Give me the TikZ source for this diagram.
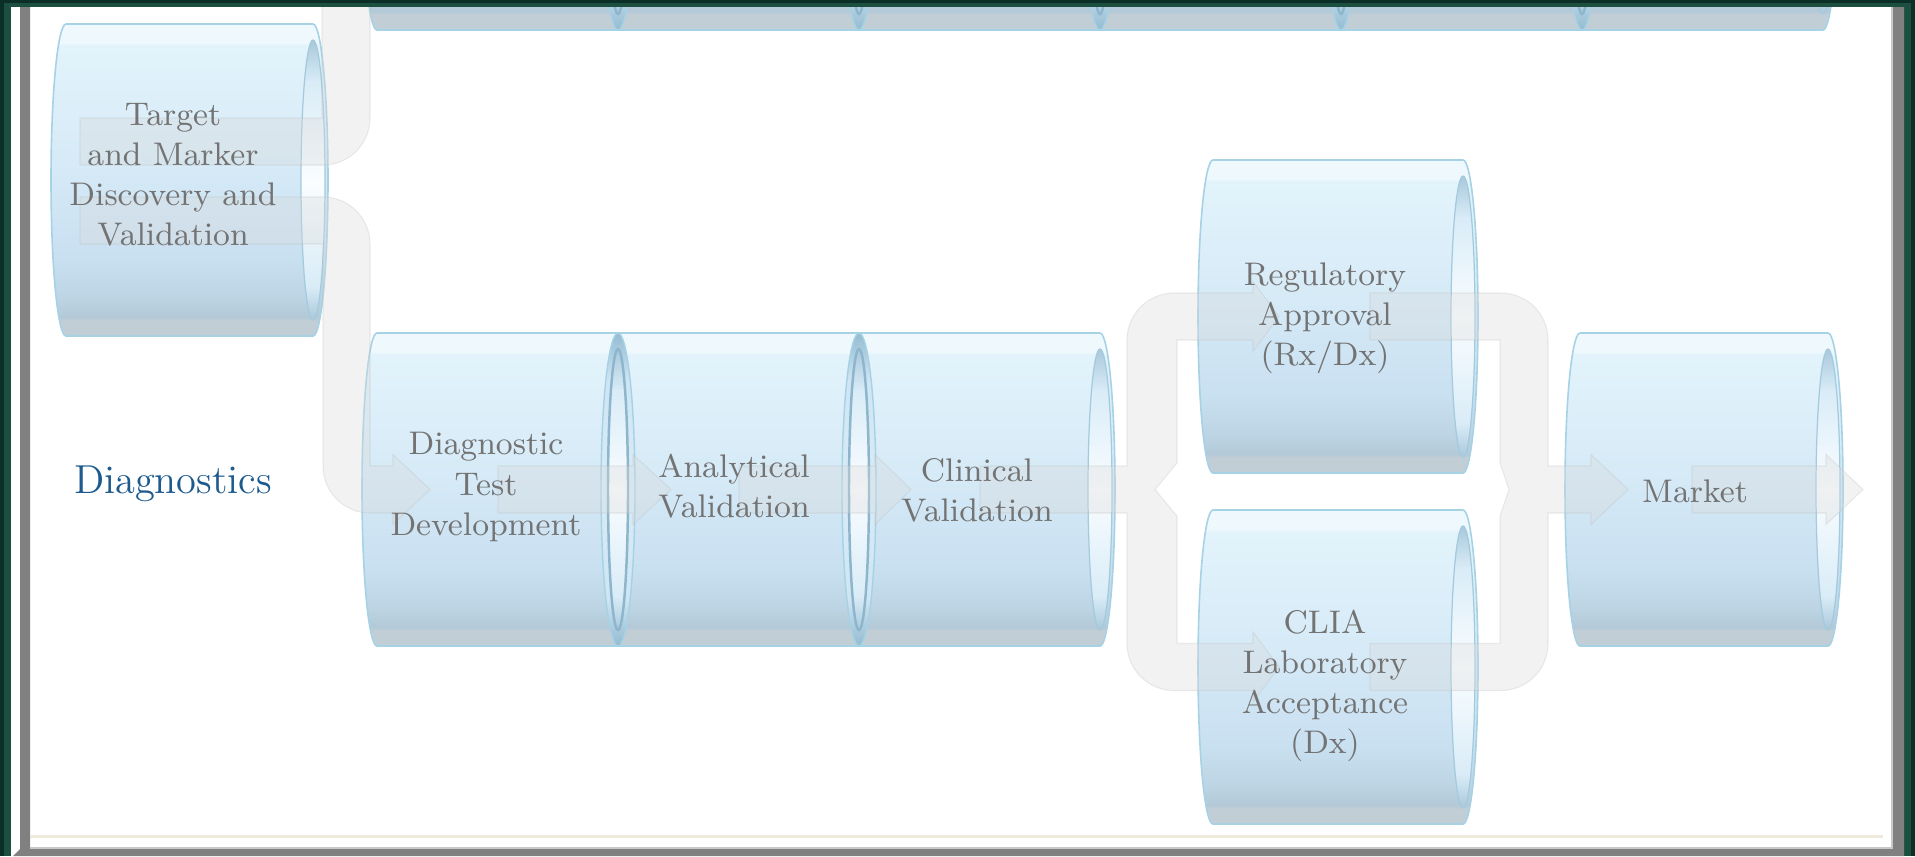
\documentclass[tikz,border=0pt]{standalone}
\usepackage{fontspec}

% palette
\definecolor{greenA}{HTML}{0B2F27}
\definecolor{greenB}{HTML}{1C4F3F}
\definecolor{framegray}{HTML}{808080}
\definecolor{framelight}{HTML}{C8C8C8}
\definecolor{creamline}{HTML}{EFEADB}
\definecolor{cyledge}{HTML}{A6D2E5}
\definecolor{ringblue}{HTML}{8DB6CD}
\definecolor{faceedge}{HTML}{A3CADD}
\definecolor{cbA}{HTML}{C2CED6}
\definecolor{cbB}{HTML}{B3C9D7}
\definecolor{cbC}{HTML}{BCD4E3}
\definecolor{cbD}{HTML}{C9E0F1}
\definecolor{cbE}{HTML}{D6EAF7}
\definecolor{cbF}{HTML}{E2F3FB}
\definecolor{cbG}{HTML}{EEF8FD}
\definecolor{cfA}{HTML}{A9C8DB}
\definecolor{cfB}{HTML}{D9ECF7}
\definecolor{cfC}{HTML}{FAFDFF}
\definecolor{crA}{HTML}{94BBD1}
\definecolor{crB}{HTML}{CFE5F3}
\definecolor{bandgray}{HTML}{D9D9D9}
\definecolor{bandedge}{HTML}{B8B8B8}
\definecolor{lblgray}{HTML}{737373}
\definecolor{diagblue}{HTML}{1D5A8E}

% cylinder body, end face and ring shadings (bottom to top; 25bp..75bp spans the path)
\pgfdeclareverticalshading{cylbody}{100bp}{color(0bp)=(cbA); color(25bp)=(cbA); color(27.5bp)=(cbA); color(28bp)=(cbB); color(31bp)=(cbC); color(37.5bp)=(cbD); color(52.5bp)=(cbE); color(71.5bp)=(cbF); color(72bp)=(cbG); color(75bp)=(cbG); color(100bp)=(cbG)}
\pgfdeclareverticalshading{cylface}{100bp}{color(0bp)=(cfA); color(25bp)=(cfA); color(31bp)=(cfB); color(50bp)=(cfC); color(67.5bp)=(cfB); color(75bp)=(cfA); color(100bp)=(cfA)}
\pgfdeclareverticalshading{cylring}{100bp}{color(0bp)=(crA); color(25bp)=(crA); color(32.5bp)=(crB); color(50bp)=(cfB); color(67.5bp)=(crB); color(75bp)=(crA); color(100bp)=(crA)}

\tikzset{
  cylfill/.style={shading=cylbody, draw=cyledge, line width=0.45pt},
  cylfacestyle/.style={shading=cylface, draw=faceedge, line width=0.35pt},
  ringouter/.style={shading=cylring, draw=cyledge, line width=0.4pt},
  ringinner/.style={shading=cylface, draw=ringblue, line width=0.7pt},
  band/.style={fill=bandgray, fill opacity=0.33, draw=bandedge, draw opacity=0.25, line width=0.3pt},
  lbl/.style={text=lblgray, align=center, inner sep=0pt, font=\fontsize{9.3pt}{11.4pt}\selectfont},
}

% #1 left centre, #2 right centre, #3 top, #4 bottom
\newcommand{\drawcylbody}[4]{%
  \pgfmathsetmacro\cyry{(#4-#3)/2}%
  \path[cylfill] (#2,#3) arc[start angle=-90,end angle=90,x radius=15,y radius=\cyry]
    -- (#1,#4) arc[start angle=90,end angle=270,x radius=15,y radius=\cyry] -- cycle;
}
% #1 centre x, #2 top, #3 bottom
\newcommand{\drawcylend}[3]{%
  \pgfmathsetmacro\cyri{(#3-#2)/2-16}%
  \pgfmathsetmacro\cycy{(#3+#2)/2}%
  \path[cylfacestyle] (#1,\cycy) ellipse[x radius=12,y radius=\cyri];
}
\newcommand{\drawcylring}[3]{%
  \pgfmathsetmacro\cyry{(#3-#2)/2}%
  \pgfmathsetmacro\cyri{(#3-#2)/2-16}%
  \pgfmathsetmacro\cycy{(#3+#2)/2}%
  \path[ringouter] (#1,\cycy) ellipse[x radius=17,y radius=\cyry];
  \path[ringinner] (#1,\cycy) ellipse[x radius=10,y radius=\cyri];
}

\begin{document}
\begin{tikzpicture}[x=0.01cm,y=-0.01cm]
\useasboundingbox (0,0) rectangle (1915,856);

% frame
\fill[greenA] (0,0) rectangle (1915,856);
\fill[greenB] (4,3) rectangle (1911,856);
\fill[white] (11,7) rectangle (1904,856);
\fill[framegray] (20,7) -- (30,7) -- (30,849) -- (1893,849) -- (1893,7) -- (1904,7)
  -- (1904,856) -- (13,856) -- (20,849) -- cycle;
\fill[framelight] (1890.5,7) rectangle (1893,849);
\fill[framelight] (30,847) rectangle (1893,849);
\fill[creamline] (30,835) rectangle (1883,837.5);

\begin{scope}
\clip (30,7) rectangle (1890,847);

% upper row of stages (only its lower edge is in view)
\drawcylbody{377}{1823}{-283}{30}
\foreach \c in {618,859,1100,1341,1582} {\drawcylring{\c}{-283}{30}}
\drawcylend{1823}{-283}{30}

% target and marker discovery
\drawcylbody{66}{313}{24}{336}
\drawcylend{313}{24}{336}

% diagnostic development chain
\drawcylbody{377}{1100}{333}{646}
\drawcylring{618}{333}{646}
\drawcylring{859}{333}{646}
\drawcylend{1100}{333}{646}

% regulatory approval
\drawcylbody{1213}{1463}{160}{473}
\drawcylend{1463}{160}{473}

% CLIA acceptance
\drawcylbody{1213}{1463}{510}{824}
\drawcylend{1463}{510}{824}

% market
\drawcylbody{1580}{1828}{333}{646}
\drawcylend{1828}{333}{646}

% flow bands
\coordinate (tgtup) at (80,118);
\coordinate (tgtdn) at (80,197);
\path[band] (tgtup) -- (322,118) -- (322,-60) -- (370,-60) -- (370,118)
  arc[start angle=0,end angle=90,radius=47] -- (80,165) -- cycle;
\path[band] (tgtdn) -- (323,197) arc[start angle=-90,end angle=0,radius=47]
  -- (370,466) -- (393,466) -- (393,454.5) -- (430,489.5) -- (393,524.5) -- (393,513)
  -- (370,513) arc[start angle=90,end angle=180,radius=47] -- (323,244) -- (80,244) -- cycle;
\path[band] (498,466) -- (633,466) -- (633,454.5) -- (671,489.5) -- (633,524.5)
  -- (633,513) -- (498,513) -- cycle;
\path[band] (739,466) -- (875,466) -- (875,454.5) -- (911,489.5) -- (875,524.5)
  -- (875,513) -- (739,513) -- cycle;
\path[band] (980,466) -- (1127,466) -- (1127,340) arc[start angle=180,end angle=270,radius=47]
  -- (1253,293) -- (1253,281.5) -- (1279,316.5) -- (1253,351.5) -- (1253,340)
  -- (1177,340) -- (1177,463) -- (1155,489.5) -- (1177,516) -- (1177,643.5)
  -- (1253,643.5) -- (1253,632) -- (1279,667) -- (1253,702) -- (1253,690.5)
  -- (1174,690.5) arc[start angle=90,end angle=180,radius=47]
  -- (1127,513) -- (980,513) -- cycle;
\path[band] (1370,293) -- (1501,293) arc[start angle=-90,end angle=0,radius=47]
  -- (1548,466) -- (1591,466) -- (1591,454.5) -- (1628,489.5) -- (1591,524.5)
  -- (1591,513) -- (1548,513) -- (1548,643.5) arc[start angle=0,end angle=90,radius=47]
  -- (1370,690.5) -- (1370,643.5) -- (1500,643.5) -- (1500,516) -- (1509,489.5)
  -- (1500,463) -- (1500,340) -- (1370,340) -- cycle;
\path[band] (1692,466) -- (1826,466) -- (1826,454.5) -- (1863,489.5) -- (1826,524.5)
  -- (1826,513) -- (1692,513) -- cycle;
\end{scope}

% labels
\node[lbl] (tgt) at (173,175) {Target\\and Marker\\Discovery and\\Validation};
\node[lbl] (dtd) at (486,487) {Diagnostic\\Test\\Development};
\node[lbl] (ana) at (734,486) {Analytical\\Validation};
\node[lbl] (cli) at (977,490) {Clinical\\Validation};
\node[lbl] (reg) at (1325,318) {Regulatory\\Approval\\(Rx/Dx)};
\node[lbl] (clia) at (1325,686) {CLIA\\Laboratory\\Acceptance\\(Dx)};
\node[lbl] (mkt) at (1695,491) {Market};
\node[text=diagblue, inner sep=0pt, font=\fontsize{11.5pt}{13pt}\selectfont] (dx) at (173,484) {Diagnostics};
\end{tikzpicture}
\end{document}
